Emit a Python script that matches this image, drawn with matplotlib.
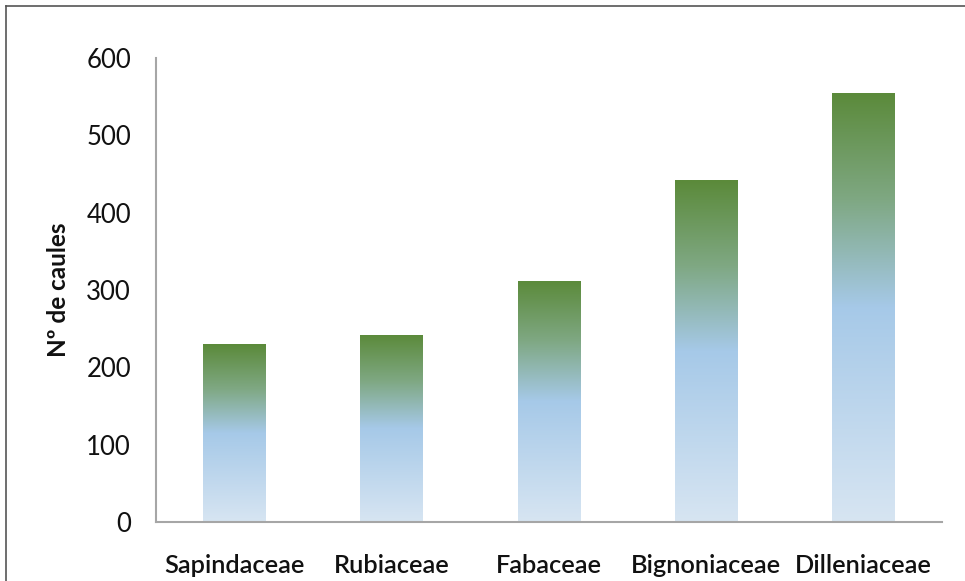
import numpy as np
import matplotlib
matplotlib.use("Agg")
import matplotlib.pyplot as plt
from matplotlib.colors import LinearSegmentedColormap
from matplotlib.lines import Line2D

families = ["Sapindaceae", "Rubiaceae", "Fabaceae", "Bignoniaceae", "Dilleniaceae"]
stem_counts = [230, 242, 312, 442, 555]
y_ticks = [0, 100, 200, 300, 400, 500, 600]

plt.rcParams["font.family"] = ["Lato", "DejaVu Sans"]

fig = plt.figure(figsize=(9.65, 5.81), dpi=100)
ax = fig.add_axes([0.1617, 0.1016, 0.8143, 0.7984])

# vertical fill: pale blue at the base, blue in the middle, green at the top
grad = LinearSegmentedColormap.from_list(
    "stem_fill",
    [(0.0, "#d7e5f2"), (0.5, "#a6c9e8"), (0.75, "#7fa883"), (1.0, "#5b8a3a")],
)
ramp = np.linspace(0, 1, 256).reshape(-1, 1)

bars = ax.bar(range(len(families)), stem_counts, width=0.4, color="none",
              edgecolor="none", zorder=2)
for bar in bars:
    x0, y0 = bar.get_x(), bar.get_y()
    w, h = bar.get_width(), bar.get_height()
    im = ax.imshow(ramp, cmap=grad, origin="lower", aspect="auto",
                   extent=[x0, x0 + w, y0, y0 + h], zorder=2)
    im.set_clip_path(bar)

ax.set_xlim(-0.5, len(families) - 0.5)
ax.set_ylim(0, 600)
ax.set_yticks(y_ticks)
ax.set_xticks(range(len(families)))
ax.set_xticklabels(families)

for s in ["top", "right"]:
    ax.spines[s].set_visible(False)
for s in ["left", "bottom"]:
    ax.spines[s].set_color("#a6a6a6")
    ax.spines[s].set_linewidth(1.5)

ax.tick_params(axis="y", length=0, labelsize=18.5, colors="#111111", pad=18)
ax.tick_params(axis="x", length=0, labelsize=18.3, colors="#111111", pad=23)
for lbl in ax.get_xticklabels():
    lbl.set_fontweight("semibold")

ax.set_ylabel("Nº de caules", fontsize=17.5, fontweight="bold", color="#111111",
              labelpad=12)

# thin frame lines along the top and left of the figure
fig.add_artist(Line2D([6 / 965, 1.0], [1 - 6 / 581, 1 - 6 / 581],
                      transform=fig.transFigure, color="#555555", lw=1.2))
fig.add_artist(Line2D([6 / 965, 6 / 965], [0.0, 1 - 6 / 581],
                      transform=fig.transFigure, color="#555555", lw=1.2))

fig.savefig("out.png", dpi=100)
